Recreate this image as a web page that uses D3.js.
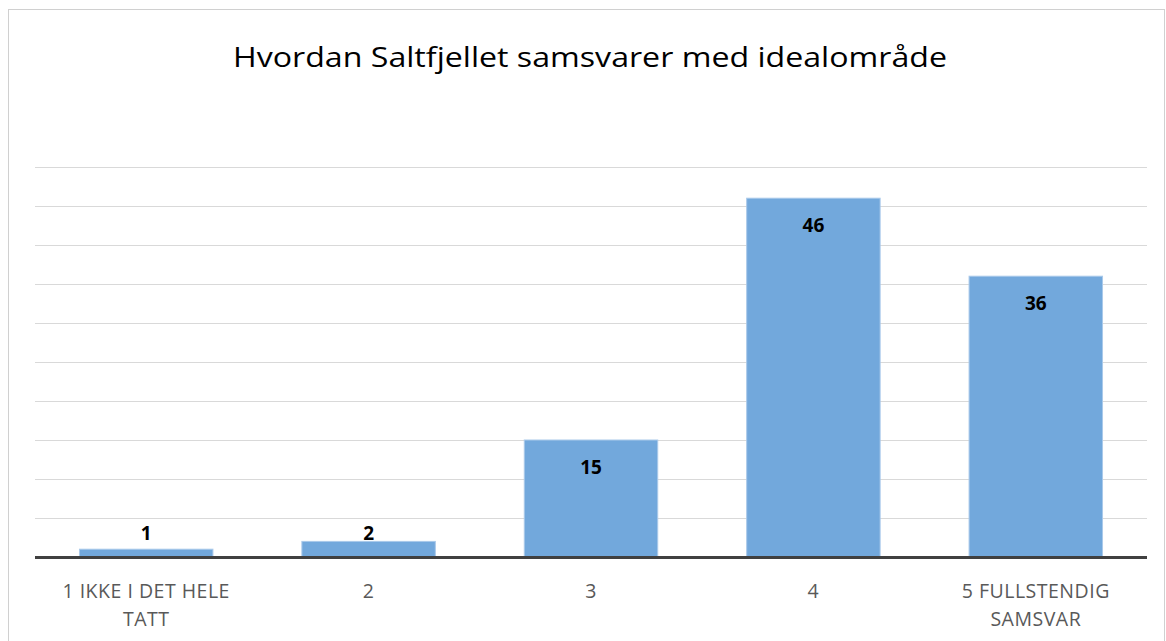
<!DOCTYPE html>
<html>
<head>
<meta charset="utf-8">
<script src="https://cdn.jsdelivr.net/npm/d3@7"></script>
<style>
  body { margin: 0; background: #fff; }
  text { font-family: "Open Sans", "Noto Sans", sans-serif; }
</style>
</head>
<body>
<div id="chart"></div>
<script>
//data
var categories = ["1 IKKE I DET HELE TATT", "2", "3", "4", "5 FULLSTENDIG SAMSVAR"];
var catLines = [["1 IKKE I DET HELE", "TATT"], ["2"], ["3"], ["4"], ["5 FULLSTENDIG", "SAMSVAR"]];
var values = [1, 2, 15, 46, 36];
var gridTicks = [5, 10, 15, 20, 25, 30, 35, 40, 45, 50];

var width = 1166, height = 641;
var margin = {top: 167, right: 19, bottom: 83, left: 35};

var svg = d3.select("#chart").append("svg")
  .attr("width", width)
  .attr("height", height);

//chart border
svg.append("rect")
  .attr("x", 8.5).attr("y", 9.5)
  .attr("width", 1156).attr("height", 640)
  .attr("fill", "#fff")
  .attr("stroke", "#d0d0d0");

//title
svg.append("text")
  .attr("x", 590).attr("y", 67)
  .attr("text-anchor", "middle")
  .attr("font-size", 28)
  .attr("textLength", 714)
  .attr("lengthAdjust", "spacingAndGlyphs")
  .attr("fill", "#000")
  .text("Hvordan Saltfjellet samsvarer med idealområde");

var x = d3.scaleBand()
  .domain(categories)
  .range([margin.left, width - margin.right])
  .paddingInner(0.4)
  .paddingOuter(0.2);

var y = d3.scaleLinear()
  .domain([0, 50])
  .range([height - margin.bottom - 1, margin.top]);

//gridlines
svg.append("g")
  .selectAll("line")
  .data(gridTicks)
  .join("line")
  .attr("x1", margin.left).attr("x2", width - margin.right)
  .attr("y1", function(d) { return Math.round(y(d)) + 0.5; })
  .attr("y2", function(d) { return Math.round(y(d)) + 0.5; })
  .attr("stroke", "#d9d9d9")
  .attr("stroke-width", 1);

//bars
svg.append("g")
  .selectAll("rect")
  .data(values)
  .join("rect")
  .attr("x", function(d, i) { return x(categories[i]); })
  .attr("y", function(d) { return y(d); })
  .attr("width", x.bandwidth())
  .attr("height", function(d) { return y(0) - y(d); })
  .attr("fill", "#72a8dc")
  .attr("stroke", "#a9c9ea")
  .attr("stroke-width", 1);

//axis line
svg.append("line")
  .attr("x1", margin.left).attr("x2", width - margin.right)
  .attr("y1", y(0) + 0.5).attr("y2", y(0) + 0.5)
  .attr("stroke", "#404040")
  .attr("stroke-width", 3);

//value labels
svg.append("g")
  .selectAll("text")
  .data(values)
  .join("text")
  .attr("x", function(d, i) { return x(categories[i]) + x.bandwidth() / 2; })
  .attr("y", function(d) { return Math.min(y(d) + 27, y(0) - 24) + 7; })
  .attr("text-anchor", "middle")
  .attr("font-size", 19)
  .attr("font-weight", "bold")
  .attr("fill", "#000")
  .text(function(d) { return d; });

//category labels
var cat = svg.append("g")
  .selectAll("text")
  .data(catLines)
  .join("text")
  .attr("text-anchor", "middle")
  .attr("font-size", 19.5)
  .attr("letter-spacing", 0.5)
  .attr("fill", "#595959");

cat.selectAll("tspan")
  .data(function(d, i) { return d.map(function(s) { return {s: s, i: i}; }); })
  .join("tspan")
  .attr("x", function(d) { return x(categories[d.i]) + x.bandwidth() / 2; })
  .attr("y", function(d, j) { return 598 + j * 28; })
  .text(function(d) { return d.s; });
</script>
</body>
</html>
